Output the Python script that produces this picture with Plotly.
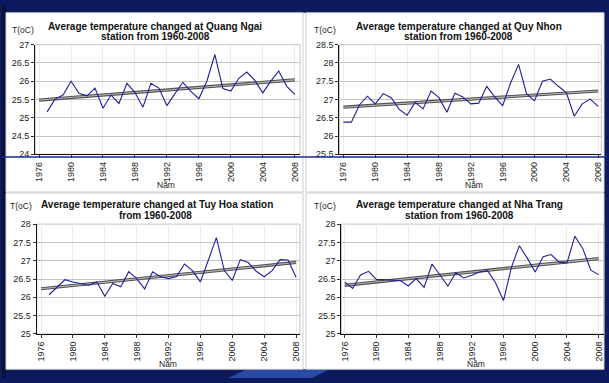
import numpy as np
import plotly.graph_objects as go

W, H = 609, 383

years = list(range(1976, 2009))
tick_years = list(range(1976, 2009, 4))

# Annual mean temperature (°C); None = no record for that year
quang_ngai = [None, 25.16, 25.51, 25.62, 26.00, 25.67, 25.60, 25.81, 25.26, 25.62,
              25.39, 25.94, 25.69, 25.29, 25.94, 25.81, 25.33, 25.66, 25.97, 25.72,
              25.52, 26.00, 26.73, 25.80, 25.73, 26.08, 26.25, 26.02, 25.68, 26.00,
              26.28, 25.86, 25.64]
quy_nhon = [26.38, 26.38, 26.85, 27.09, 26.88, 27.16, 27.05, 26.73, 26.57, 26.92,
            26.74, 27.23, 27.05, 26.65, 27.17, 27.07, 26.88, 26.90, 27.36, 27.07,
            26.83, 27.45, 27.96, 27.16, 26.96, 27.50, 27.56, 27.36, 27.19, 26.54,
            26.88, 27.01, 26.81]
tuy_hoa = [None, 26.07, 26.28, 26.48, 26.42, 26.38, 26.33, 26.42, 26.03, 26.38,
           26.29, 26.70, 26.51, 26.23, 26.70, 26.56, 26.51, 26.57, 26.91, 26.73,
           26.42, 27.02, 27.63, 26.73, 26.46, 27.03, 26.95, 26.71, 26.56, 26.73,
           27.03, 27.02, 26.55]
nha_trang = [26.42, 26.24, 26.61, 26.71, 26.49, 26.47, 26.47, 26.46, 26.31, 26.51,
             26.27, 26.91, 26.60, 26.31, 26.67, 26.53, 26.60, 26.69, 26.73, 26.40,
             25.91, 26.82, 27.41, 27.07, 26.69, 27.11, 27.17, 26.96, 26.94, 27.67,
             27.33, 26.74, 26.62]

titles = [
    ("Average temperature changed at Quang Ngai", "station from 1960-2008"),
    ("Average temperature changed at Quy Nhon", "station from 1960-2008"),
    ("Average temperature changed at Tuy Hoa station", "from 1960-2008"),
    ("Average temperature changed at Nha Trang", "station from 1960-2008"),
]
y_ranges = [[24, 27], [25.5, 28.5], [25, 28], [25, 28]]
series = [quang_ngai, quy_nhon, tuy_hoa, nha_trang]

# Pixel geometry of each panel
layout_px = [
    dict(plot=(33.3, 300.0, 40.7, 153.3), x_range=[1975.5, 2008.66],
         t1=(154.5, 22.0), t2=(154.5, 32.5), ylab=(21, 25.7), xlab=(165, 185)),
    dict(plot=(339.7, 603.3, 40.7, 153.3), x_range=[1975.5, 2008.4],
         t1=(460.0, 22.0), t2=(460.0, 32.5), ylab=(325.5, 25.7), xlab=(474.7, 184.5)),
    dict(plot=(35.0, 300.0, 225.0, 337.7), x_range=[1975.46, 2008.5],
         t1=(156.5, 205.0), t2=(155.0, 216.0), ylab=(19.5, 206.0), xlab=(166.7, 369)),
    dict(plot=(341.7, 605.7, 225.0, 337.7), x_range=[1975.59, 2008.63],
         t1=(460.7, 205.0), t2=(460.7, 216.0), ylab=(325.5, 206.7), xlab=(477.3, 369)),
]


def px(x):
    return x / W


def py(y):
    return 1 - y / H


FONT = "Liberation Sans, Arial, sans-serif"
NAVY = "#0d1b5e"
LINE_BLUE = "#1f1f9e"

fig = go.Figure()
shapes = []
annotations = []

# Slide background pieces
shapes.append(dict(type="rect", xref="paper", yref="paper", x0=0, x1=px(4), y0=0, y1=1,
                   fillcolor="#0a1038", line_width=0, layer="below"))
shapes.append(dict(type="rect", xref="paper", yref="paper", x0=px(4), x1=px(606),
                   y0=py(374), y1=py(8), fillcolor="white", line_width=0, layer="below"))
shapes.append(dict(type="path", xref="paper", yref="paper",
                   path=f"M {px(228)},{py(383)} L {px(246)},{py(374)} L {px(330)},{py(374)} "
                        f"L {px(312)},{py(383)} Z",
                   fillcolor="#2b4aa6", line_width=0, layer="below"))
# Panel frames
for (x0, x1, y0, y1) in [(4, 303, 8, 192), (306, 606, 8, 192), (4, 303, 193, 374), (306, 606, 193, 374)]:
    shapes.append(dict(type="rect", xref="paper", yref="paper", x0=px(x0), x1=px(x1),
                       y0=py(y1), y1=py(y0), line=dict(color="#cfcfcf", width=1),
                       fillcolor="rgba(0,0,0,0)", layer="below"))

for i, (vals, rng, geo, (l1, l2)) in enumerate(zip(series, y_ranges, layout_px, titles)):
    n = "" if i == 0 else str(i + 1)
    xa, ya = "x" + n, "y" + n
    x0, x1, y0, y1 = geo["plot"]

    # Least-squares linear trend over the recorded years
    xs = np.array([y for y, v in zip(years, vals) if v is not None], dtype=float)
    vs = np.array([v for v in vals if v is not None], dtype=float)
    slope, intercept = np.polyfit(xs, vs, 1)
    trend = [slope * y + intercept for y in years]

    fig.add_trace(go.Scatter(x=years, y=trend, mode="lines", xaxis=xa, yaxis=ya,
                             line=dict(color="#505050", width=3.2), hoverinfo="skip",
                             showlegend=False))
    fig.add_trace(go.Scatter(x=years, y=trend, mode="lines", xaxis=xa, yaxis=ya,
                             line=dict(color="#b8b8b8", width=1.1), hoverinfo="skip",
                             showlegend=False))
    fig.add_trace(go.Scatter(x=years, y=vals, mode="lines", xaxis=xa, yaxis=ya,
                             line=dict(color=LINE_BLUE, width=1.1), connectgaps=False,
                             showlegend=False))

    fig.layout["xaxis" + n] = dict(
        domain=[px(x0), px(x1)], anchor=ya, range=geo["x_range"],
        tickmode="array", tickvals=tick_years, ticktext=[str(t) for t in tick_years],
        tickangle=-90, tickfont=dict(family=FONT, size=9, color="#222"),
        ticks="outside", ticklen=3, tickcolor="#333",
        showgrid=True, gridcolor="#ececec", gridwidth=1,
        showline=True, linecolor="#111", linewidth=1.2, zeroline=False,
    )
    fig.layout["yaxis" + n] = dict(
        domain=[py(y1), py(y0)], anchor=xa, range=rng, dtick=0.5, tick0=rng[0],
        tickfont=dict(family=FONT, size=9, color="#222"),
        ticks="outside", ticklen=3, tickcolor="#333",
        showgrid=True, gridcolor="#c4c4c4", gridwidth=1,
        showline=True, linecolor="#111", linewidth=1.2, zeroline=False,
    )
    # Plot-area frame
    shapes.append(dict(type="rect", xref="paper", yref="paper", x0=px(x0), x1=px(x1),
                       y0=py(y1), y1=py(y0), line=dict(color="#c4c4c4", width=1),
                       fillcolor="rgba(0,0,0,0)", layer="below"))

    for (tx, ty), txt in [(geo["t1"], l1), (geo["t2"], l2)]:
        annotations.append(dict(x=px(tx), y=py(ty), xref="paper", yref="paper",
                                text=f"<b>{txt}</b>", showarrow=False,
                                xanchor="center", yanchor="middle",
                                font=dict(family=FONT, size=10, color="#111")))
    annotations.append(dict(x=px(geo["ylab"][0]), y=py(geo["ylab"][1]), xref="paper",
                            yref="paper", text="T(oC)", showarrow=False,
                            xanchor="center", yanchor="middle",
                            font=dict(family=FONT, size=8.5, color="#222")))
    annotations.append(dict(x=px(geo["xlab"][0]), y=py(geo["xlab"][1]), xref="paper",
                            yref="paper", text="Năm", showarrow=False,
                            xanchor="center", yanchor="middle",
                            font=dict(family=FONT, size=8.5, color="#222")))

# Thin slide rule running across the upper panels
shapes.append(dict(type="line", xref="paper", yref="paper", x0=0, x1=1,
                   y0=py(156), y1=py(156), line=dict(color="#1b2a8c", width=1.5), layer="above"))

fig.update_layout(
    width=W, height=H, margin=dict(l=0, r=0, t=0, b=0),
    paper_bgcolor=NAVY, plot_bgcolor="white",
    shapes=shapes, annotations=annotations, showlegend=False,
)

fig.write_html("out.html", config={"displayModeBar": False})
